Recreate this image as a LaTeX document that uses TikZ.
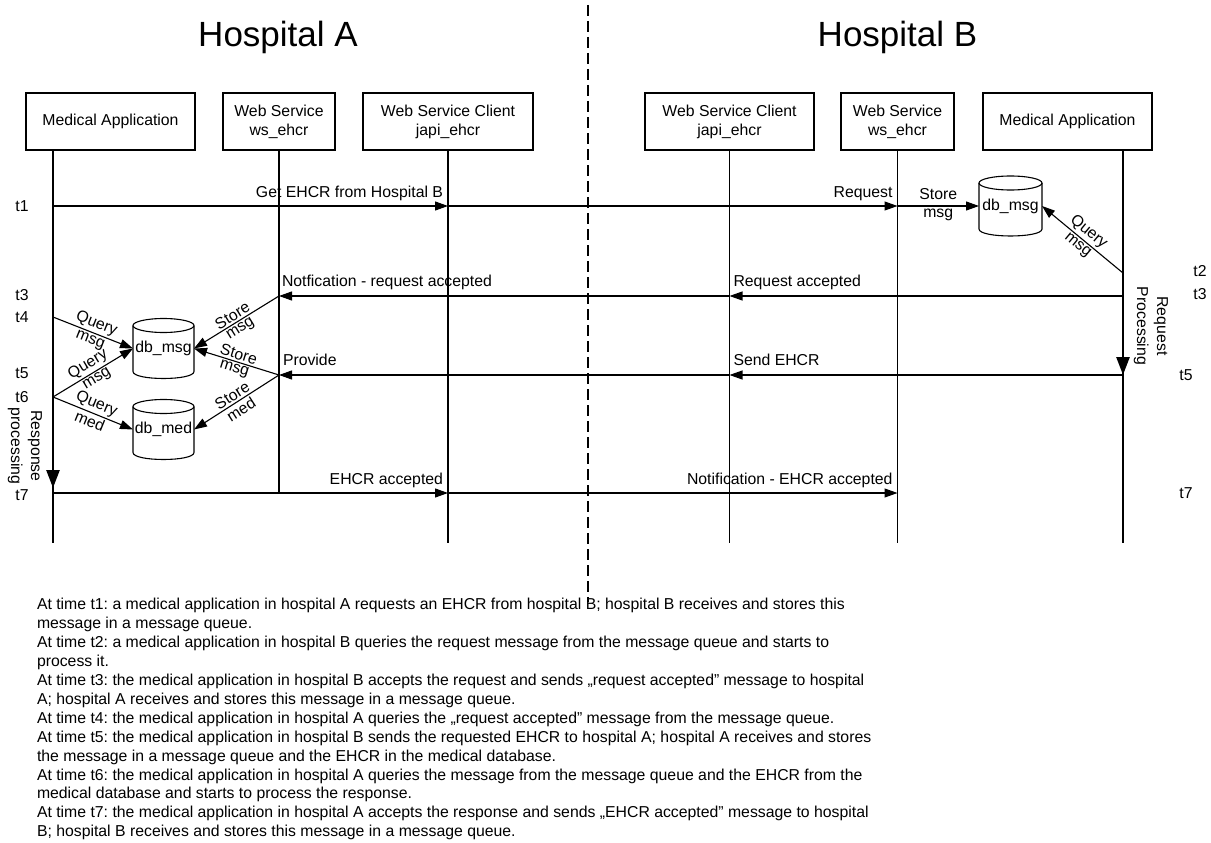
\documentclass[tikz,border=0pt]{standalone}
\usepackage{fontspec}
\setmainfont{Liberation Sans}
\usetikzlibrary{arrows.meta,calc}
\frenchspacing

% outline of a message store drawn around a named node: #1 node, #2 x radius
\newcommand\cylinderoutline[2]{%
  \draw[line width=1.1pt] ($(#1.north west)+(0,7)$) -- ($(#1.south west)+(0,-7)$)
    .. controls ($(#1.south west)+(0,2.33)$) and ($(#1.south east)+(0,2.33)$) .. ($(#1.south east)+(0,-7)$)
    -- ($(#1.north east)+(0,7)$);
  \draw[line width=1.1pt] ($(#1.north)+(0,7)$) ellipse [x radius=#2pt, y radius=7pt];
}

\begin{document}
\begin{tikzpicture}[x=1pt,y=-1pt,
  every node/.style={font=\fontsize{15.8}{18.9}\selectfont, inner sep=0pt, outer sep=0pt},
  actor/.style={draw, line width=1.3pt, minimum height=57pt, align=center},
  life/.style={line width=1.1pt},
  msg/.style={line width=1.1pt, -{Triangle[length=13pt,width=9pt]}},
  proc/.style={line width=2.6pt, -{Triangle[length=18pt,width=13pt]}},
  dbstore/.style={minimum width=61pt, minimum height=60pt},
  title/.style={font=\fontsize{35}{40}\selectfont},
  slab/.style={sloped, inner sep=2.4pt},
  rlab/.style={pos=1, anchor=base east, xshift=-5pt, yshift=9pt},
  llab/.style={pos=1, anchor=base west, xshift=4pt, yshift=10pt},
  vlab/.style={rotate=-90, align=center, font=\fontsize{15.8}{20}\selectfont}
]
\fill[white] (0,0) rectangle (1211,843);
\useasboundingbox (0,0) rectangle (1211,843);

% titles and the border between the two hospitals
\node[title, anchor=base] (hA) at (278,47) {Hospital A};
\node[title, anchor=base] (hB) at (897.5,47) {Hospital B};
\coordinate (dtop) at (588,5);
\coordinate (dbot) at (588,602);
\draw[line width=1.4pt, dash pattern=on 11pt off 5pt] (dtop) -- (dbot);

% participants
\node[actor, minimum width=169pt] (mA) at (110.5,121.5) {Medical Application};
\node[actor, minimum width=112pt] (wsA) at (279,121.5) {Web Service\\ws\_ehcr};
\node[actor, minimum width=170pt] (wscA) at (448,121.5) {Web Service Client\\japi\_ehcr};
\node[actor, minimum width=169pt] (wscB) at (729.5,121.5) {Web Service Client\\japi\_ehcr};
\node[actor, minimum width=113pt] (wsB) at (897.5,121.5) {Web Service\\ws\_ehcr};
\node[actor, minimum width=169pt] (mB) at (1067.5,121.5) {Medical Application};

% lifelines
\coordinate (mAend) at (53,543);
\coordinate (wsAend) at (279,493);
\coordinate (wscAend) at (448,543);
\coordinate (wscBend) at (729.5,543);
\coordinate (wsBend) at (897.5,543);
\coordinate (mBend) at (1123,543);
\draw[life] (mA.south -| mAend) -- (mAend);
\draw[life] (wsA.south) -- (wsAend);
\draw[life] (wscA.south) -- (wscAend);
\draw[life] (wscB.south) -- (wscBend);
\draw[life] (wsB.south) -- (wsBend);
\draw[life] (mB.south -| mBend) -- (mBend);

% events on the lifelines
\coordinate (a1) at (53,206);
\coordinate (a4) at (53,317);
\coordinate (a6) at (53,397);
\coordinate (a6e) at (53,488);
\coordinate (a7) at (53,493);
\coordinate (s3) at (279,296);
\coordinate (s5) at (279,375);
\coordinate (c1) at (448,206);
\coordinate (c7) at (448,493);
\coordinate (cb3) at (729.5,296);
\coordinate (cb5) at (729.5,375);
\coordinate (sb1) at (897.5,206);
\coordinate (sb7) at (897.5,493);
\coordinate (b2) at (1123,273);
\coordinate (b3) at (1123,296);
\coordinate (b5) at (1123,375);

% message stores
\node[dbstore] (dbA) at (163.5,348.5) {\raisebox{-5pt}{db\_msg}};
\node[dbstore] (dbM) at (163.5,429.5) {\raisebox{-4pt}{db\_med}};
\node[dbstore, minimum width=63pt] (dbB) at (1010.5,206) {\raisebox{-4pt}{db\_msg}};
\cylinderoutline{dbA}{30.5}
\cylinderoutline{dbM}{30.5}
\cylinderoutline{dbB}{31.5}

% t1: request
\draw[msg] (a1) -- (c1) node[rlab] {Get EHCR from Hospital B};
\draw[msg] (c1) -- (sb1) node[rlab] {Request};
\draw[msg] (sb1) -- (dbB.west)
  node[midway, anchor=base, yshift=7pt] {Store}
  node[midway, anchor=base, yshift=-11pt] {msg};

% t2: hospital B reads the request
\draw[msg] (b2) -- (dbB.east) node[slab, midway, above] {Query} node[slab, midway, below] {msg};
\draw[proc] (b2) -- (b5);
\node[vlab] (rp) at (1151,326) {Request\\Processing};

% t3: request accepted
\draw[msg] (b3) -- (cb3) node[llab] {Request accepted};
\draw[msg] (cb3) -- (s3) node[llab, xshift=-1pt] {Notfication - request accepted};
\draw[msg] (s3) -- (dbA.east) node[slab, midway, above] {Store} node[slab, midway, below] {msg};

% t4
\draw[msg] (a4) -- (dbA.west) node[slab, midway, above] {Query} node[slab, midway, below] {msg};

% t5: EHCR sent
\draw[msg] (b5) -- (cb5) node[llab] {Send EHCR};
\draw[msg] (cb5) -- (s5) node[llab] {Provide};
\draw[msg] (s5) -- (dbA.east) node[slab, midway, above] {Store} node[slab, midway, below] {msg};
\draw[msg] (s5) -- (dbM.east) node[slab, midway, above] {Store} node[slab, midway, below] {med};

% t6: hospital A reads the response
\draw[msg] (a6) -- (dbA.west) node[slab, midway, above] {Query} node[slab, midway, below] {msg};
\draw[msg] (a6) -- (dbM.west) node[slab, midway, above] {Query} node[slab, midway, below] {med};
\draw[proc] (a6) -- (a6e);
\node[vlab] (resp) at (25,446) {Response\\processing};

% t7: EHCR accepted
\draw[msg] (a7) -- (c7) node[rlab] {EHCR accepted};
\draw[msg] (c7) -- (sb7) node[rlab] {Notification - EHCR accepted};

% time marks
\node (tA1) at (22,206) {t1};
\node (tA3) at (22,295) {t3};
\node (tA4) at (22,317) {t4};
\node (tA5) at (22,373) {t5};
\node (tA6) at (22,397) {t6};
\node (tA7) at (22,495) {t7};
\node (tB2) at (1200,271) {t2};
\node (tB3) at (1200,294) {t3};
\node (tB5) at (1186,375) {t5};
\node (tB7) at (1186,493) {t7};

% description of the exchange
\node[anchor=north west, align=left] (desc) at (37,598.5) {%
At time t1: a medical application in hospital A requests an EHCR from hospital B; hospital B receives and stores this\\
message in a message queue.\\
At time t2: a medical application in hospital B queries the request message from the message queue and starts to\\
process it.\\
At time t3: the medical application in hospital B accepts the request and sends „request accepted” message to hospital\\
A; hospital A receives and stores this message in a message queue.\\
At time t4: the medical application in hospital A queries the „request accepted” message from the message queue.\\
At time t5: the medical application in hospital B sends the requested EHCR to hospital A; hospital A receives and stores\\
the message in a message queue and the EHCR in the medical database.\\
At time t6: the medical application in hospital A queries the message from the message queue and the EHCR from the\\
medical database and starts to process the response.\\
At time t7: the medical application in hospital A accepts the response and sends „EHCR accepted” message to hospital\\
B; hospital B receives and stores this message in a message queue.};
\end{tikzpicture}
\end{document}
